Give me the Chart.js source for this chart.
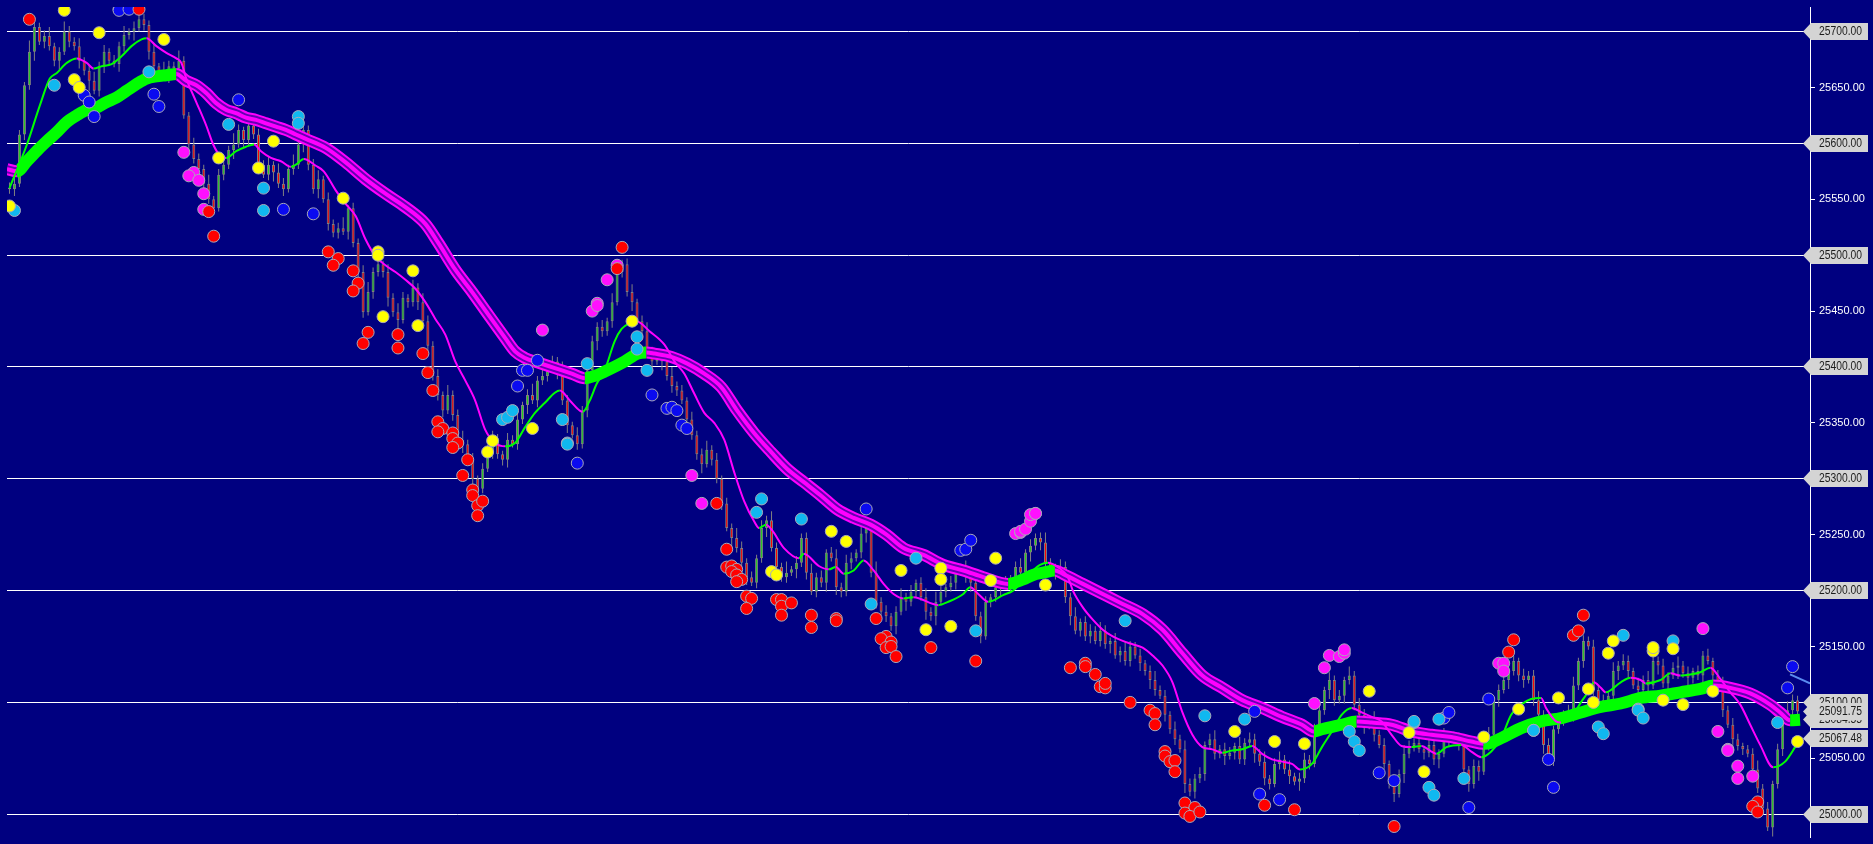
<!DOCTYPE html>
<html><head><meta charset="utf-8">
<script src="https://cdn.jsdelivr.net/npm/chart.js@4.4.1/dist/chart.umd.min.js"></script>
<style>html,body{margin:0;padding:0;background:#000080;overflow:hidden}canvas{display:block}</style>
</head><body>
<canvas id="c" width="1873" height="844"></canvas>
<script>
// ---------- DATA ----------
const firstOpen = 25560;
const closes = [
25559,25564,25608,25652,25682,25704,25691,25696,25687,25674,
25682,25700,25691,25687,25674,25665,25656,25647,25669,25682,
25674,25671,25687,25697,25700,25703,25711,25706,25682,25669,
25665,25662,25669,25667,25674,25625,25599,25586,25577,25564,
25550,25542,25572,25581,25594,25599,25612,25603,25616,25608,
25581,25572,25581,25574,25564,25559,25577,25581,25599,25612,
25581,25559,25568,25550,25528,25520,25524,25521,25542,25511,
25485,25449,25467,25485,25492,25485,25462,25449,25442,25462,
25458,25471,25458,25441,25419,25392,25375,25361,25375,25357,
25335,25331,25317,25300,25291,25309,25326,25335,25322,25317,
25335,25331,25353,25366,25375,25370,25388,25392,25401,25405,
25397,25370,25348,25339,25331,25361,25397,25423,25436,25432,
25441,25458,25485,25492,25467,25458,25441,25432,25414,25405,
25410,25405,25392,25383,25379,25370,25353,25339,25322,25313,
25326,25317,25300,25278,25256,25247,25238,25225,25212,25207,
25229,25256,25263,25238,25221,25212,25216,25219,25225,25247,
25216,25199,25212,25207,25234,25229,25203,25199,25225,25229,
25234,25251,25256,25216,25190,25181,25177,25168,25181,25194,
25190,25199,25207,25194,25181,25177,25190,25199,25203,25207,
25216,25219,25212,25207,25177,25159,25190,25194,25203,25207,
25205,25210,25221,25216,25234,25240,25247,25243,25225,25221,
25216,25221,25194,25177,25164,25172,25159,25164,25155,25164,
25152,25155,25142,25146,25137,25150,25142,25135,25128,25120,
25111,25106,25089,25076,25067,25058,25027,25020,25032,25036,
25062,25067,25054,25058,25052,25055,25061,25049,25064,25067,
25054,25047,25032,25027,25045,25049,25040,25034,25029,25032,
25049,25045,25076,25093,25111,25120,25102,25106,25120,25124,
25098,25089,25080,25084,25071,25062,25045,25027,25018,25036,
25054,25061,25064,25058,25055,25062,25049,25054,25071,25067,
25069,25062,25040,25027,25043,25038,25062,25071,25102,25111,
25120,25128,25137,25124,25120,25124,25102,25089,25062,25049,
25076,25084,25089,25091,25115,25137,25155,25150,25111,25102,
25098,25106,25128,25133,25137,25128,25115,25111,25120,25115,
25137,25133,25117,25124,25131,25133,25126,25122,25128,25124,
25142,25137,25124,25115,25093,25080,25067,25061,25058,25054,
25040,25023,25005,24988,25027,25058,25084,25093,25102,25091.75
];
const upperWick = [
5,8,4,3,10,6,4,5,8,3, 4,9,5,4,7,3,5,8,4,6,
3,5,4,8,3,6,11,5,4,7, 3,8,5,4,9,4,3,6,5,4,
8,3,5,7,4,10,5,3,8,4, 5,4,7,3,8,5,4,9,3,6,
4,5,8,3,6,4,5,10,3,5, 4,6,9,4,5,3,7,4,8,5,
3,7,4,8,5,4,6,3,9,4, 5,8,4,6,3,5,4,8,5,3,
6,4,8,3,5,10,4,6,3,5, 4,8,5,3,7,4,9,5,4,6,
3,8,11,4,5,7,3,5,8,4, 6,3,5,8,4,5,3,7,4,5,
8,4,6,3,5,4,9,6,4,5, 3,7,4,8,5,4,10,3,6,4,
5,8,4,6,3,5,8,4,7,5, 3,8,4,5,10,4,6,3,5,8,
4,6,3,5,8,4,9,5,3,6, 4,5,8,3,6,4,5,3,8,4,
6,4,5,8,3,6,4,5,9,4, 3,7,5,4,8,3,5,6,4,8,
5,3,7,4,8,5,4,6,3,5, 8,4,5,3,7,4,8,5,4,6,
3,5,8,4,6,5,3,8,4,6, 5,4,9,3,5,7,4,8,3,5,
6,4,5,8,3,7,4,5,3,8, 4,6,5,3,8,4,6,3,5,4,
8,5,4,6,3,5,8,4,6,3, 5,4,8,3,6,5,4,7,3,5,
4,8,5,3,6,4,5,8,4,6, 3,5,4,7,8,3,5,4,6,4,
5,3,8,4,6,5,3,7,4,8, 5,4,6,3,5,8,4,6,3,5,
4,6,3,5,8,4,6,5,3,4, 5,8,4,6,3,5,4,8,5,4
];
const lowerWick = [
4,6,3,5,4,8,3,6,4,5, 8,3,5,4,7,4,9,3,5,6,
4,3,7,5,4,8,3,5,7,4, 5,3,8,4,6,3,5,4,8,10,
4,6,3,5,4,8,3,7,5,4, 6,3,5,8,4,6,3,5,4,7,
5,4,8,3,6,4,5,3,7,4, 8,5,3,6,4,5,8,4,10,3,
5,4,7,3,8,4,5,6,3,5, 4,8,3,5,7,4,3,8,4,5,
7,3,5,4,8,3,6,4,5,3, 8,4,7,3,5,4,6,3,8,5,
4,6,3,5,4,8,3,6,4,5, 3,8,4,6,5,3,7,4,5,8,
3,5,4,6,3,8,4,5,7,3, 5,4,8,3,6,4,5,3,8,4,
6,3,5,4,8,3,7,5,4,6, 3,5,8,4,6,3,5,4,7,3,
8,4,5,3,7,4,8,3,5,4, 6,3,5,8,4,6,3,5,4,8,
3,6,4,5,3,8,4,7,5,3, 6,4,5,8,3,5,4,6,3,5,
4,8,3,6,4,5,3,7,4,8, 5,3,6,4,5,3,8,4,6,4,
6,3,5,4,8,3,6,4,5,3, 8,4,6,5,3,5,4,7,3,8,
4,5,3,6,4,8,5,3,7,4, 5,3,8,4,6,3,5,4,7,3,
8,4,5,3,6,4,5,8,3,6, 4,5,3,7,4,8,3,5,4,6,
3,8,4,5,7,3,5,4,8,3, 6,4,5,3,8,4,6,3,5,4,
6,3,5,8,4,6,3,5,4,7, 3,8,4,5,3,10,4,9,5,4,
8,3,5,4,6,3,8,4,5,3, 6,4,5,3,8,4,6,3,5,4
];
// fast moving average [bar, price]
const fastMA = [[0,25560],[3.5,25599],[6.1,25634],[8.1,25658],[9.5,25663],[11.5,25672],[13.5,25676],[15.5,25672],[16.9,25667],[18.5,25669],[20.5,25671],[22.5,25678],[24.5,25687],[26.5,25693],[27.5,25694],[29.5,25687],[31.5,25681],[33.5,25676],[34.5,25672],[35.5,25658],[37.5,25637],[39.5,25616],[40.9,25599],[42.1,25590],[43.5,25587],[45.5,25593],[47.5,25597],[49.1,25599],[50.5,25593],[52.5,25587],[54.5,25584],[56.5,25579],[57.5,25581],[59.1,25586],[61.5,25580],[63.1,25575],[65.5,25558],[67.5,25546],[69.5,25535],[71.5,25514],[73.5,25499],[75.5,25491],[77.5,25485],[79.5,25478],[81.5,25470],[83.5,25458],[85.5,25443],[87.5,25429],[89.5,25405],[91.5,25388],[93.5,25370],[95.5,25344],[97.5,25332],[99.5,25329],[101.5,25332],[103.5,25346],[105.5,25359],[107.5,25368],[109.5,25377],[110.5,25379],[112.5,25370],[114.5,25361],[115.1,25360],[116.5,25370],[117.9,25385],[119.5,25397],[121.5,25423],[122.9,25434],[124.5,25439],[125.9,25441],[128.5,25432],[131.5,25420],[133.5,25405],[135.5,25394],[137.5,25376],[139.5,25359],[141.5,25350],[143.5,25335],[145.5,25306],[147.5,25280],[149.5,25262],[150.5,25256],[151.9,25259],[153.1,25254],[155.5,25238],[158.5,25229],[159.5,25233],[162.5,25222],[164.5,25219],[165.9,25221],[167.5,25215],[169.5,25218],[171.5,25227],[173.5,25218],[175.5,25206],[177.5,25197],[179.5,25193],[181.5,25194],[186.5,25187],[188.5,25190],[191.5,25197],[192.9,25203],[194.5,25197],[196.5,25190],[199.5,25196],[201.5,25200],[203.5,25209],[205.5,25218],[206.9,25223],[208.5,25225],[210.5,25221],[212.5,25212],[213.5,25200],[215.5,25185],[217.5,25174],[219.5,25165],[221.5,25159],[223.5,25155],[225.5,25152],[227.5,25149],[229.5,25142],[231.5,25133],[233.5,25118],[235.5,25091],[237.5,25071],[239.5,25060],[241.5,25058],[243.5,25055],[245.5,25057],[247.5,25058],[249.5,25061],[251.5,25054],[253.5,25049],[255.5,25047],[257.5,25045],[259.1,25040],[261.5,25045],[263.5,25060],[265.5,25074],[267.5,25089],[269.5,25095],[271.5,25091],[273.5,25087],[275.5,25083],[277.5,25071],[279.5,25061],[281.5,25060],[283.5,25061],[285.5,25056],[286.5,25054],[288.5,25060],[291.5,25062],[293.5,25056],[295.5,25051],[297.5,25056],[299.5,25068],[301.5,25089],[303.5,25098],[305.5,25103],[307.5,25104],[308.5,25095],[310.5,25083],[311.5,25082],[313.5,25086],[315.5,25100],[317.5,25113],[318.1,25118],[319.5,25113],[320.5,25109],[323.5,25118],[325.5,25122],[327.5,25120],[328.5,25117],[331.5,25120],[333.5,25126],[335.5,25124],[337.5,25125],[339.5,25127],[341.5,25131],[343.5,25121],[345.5,25109],[347.5,25098],[349.5,25080],[351.5,25062],[354.1,25042],[356.5,25047],[358.5,25060],[359.5,25067.48]];
// slow ribbon [bar, price]
const slowRibbon = [[-0.5,25577],[1.5,25575],[3.5,25584],[6.1,25596],[7.5,25602],[9.5,25610],[11.5,25619],[13.5,25625],[15.5,25630],[17.5,25632],[19.5,25637],[21.5,25641],[23.5,25647],[25.5,25653],[27.5,25658],[29.5,25660],[31.5,25661],[33.5,25662],[35.5,25656],[37.5,25652],[39.5,25645],[41.5,25636],[43.5,25630],[45.5,25627],[47.5,25623],[49.5,25621],[51.5,25618],[53.5,25615],[55.5,25612],[57.5,25608],[59.5,25604],[63.5,25596],[67.5,25583],[71.5,25568],[75.5,25555],[79.5,25543],[83.5,25528],[86.1,25511],[89.5,25487],[92.9,25467],[96.1,25447],[99.5,25426],[101.5,25414],[103.5,25408],[106.1,25404],[109.5,25399],[112.9,25394],[115.5,25390],[117.5,25392],[119.5,25396],[123.5,25405],[126.1,25412],[127.9,25413],[129.5,25412],[132.9,25409],[136.1,25403],[139.5,25394],[142.9,25382],[146.1,25361],[149.5,25341],[152.9,25324],[156.1,25309],[159.5,25297],[162.9,25285],[166.1,25273],[169.5,25265],[172.9,25259],[176.1,25250],[179.5,25238],[183.5,25232],[187.5,25223],[191.5,25218],[195.5,25212],[200.5,25206],[203.5,25210],[205.5,25214],[207.5,25216],[209.9,25218],[211.5,25215],[215.5,25206],[219.5,25197],[223.5,25188],[227.5,25179],[231.5,25165],[235.5,25144],[239.5,25124],[243.5,25113],[247.5,25102],[251.5,25095],[255.5,25087],[259.5,25080],[261.9,25074],[263.5,25076],[267.5,25080],[270.5,25083],[273.5,25082],[277.5,25080],[281.5,25074],[285.5,25071],[289.5,25069],[293.5,25065],[295.9,25063],[297.5,25064],[299.5,25068],[303.5,25077],[307.5,25083],[311.5,25086],[315.5,25091],[319.5,25096],[323.5,25099],[327.5,25104],[331.5,25106],[335.5,25109],[339.5,25112],[342.1,25115],[345.5,25113],[349.5,25108],[353.5,25098],[355.5,25091],[357.5,25084],[359.5,25084.55]];
// signal dots [bar, price]
const redDots = [[4,25711],[26,25720],[40,25539],[41,25517],[64,25503],[66,25497],[65,25491],[69,25486],[70,25475],[69,25468],[72,25431],[71,25421],[78,25429],[78,25417],[83,25412],[84,25395],[85,25379],[86,25351],[87,25345],[86,25342],[89,25341],[89,25336],[90,25332],[89,25328],[92,25317],[91,25303],[93,25290],[93,25285],[94,25276],[95,25280],[94,25267],[123,25507],[122,25488],[142,25278],[144,25237],[144,25221],[145,25222],[146,25219],[145,25217],[146,25214],[147,25210],[146,25208],[148,25195],[149,25193],[148,25184],[154,25192],[155,25192],[155,25186],[157,25189],[155,25178],[161,25178],[161,25167],[166,25175],[166,25173],[174,25175],[176,25159],[175,25157],[177,25154],[176,25149],[177,25150],[178,25141],[185,25149],[194,25137],[213,25131],[216,25135],[216,25132],[218,25125],[219,25114],[220,25113],[220,25117],[225,25100],[229,25093],[230,25090],[230,25080],[232,25056],[232,25052],[233,25047],[234,25048],[234,25038],[236,25010],[238,25006],[236,25001],[237,24998],[239,25002],[252,25008],[258,25004],[278,24989],[301,25145],[302,25156],[314,25160],[315,25164],[316,25178],[351,25011],[350,25007],[351,25002]];
const yellowDots = [[11,25719],[18,25699],[31,25693],[13,25657],[14,25650],[0,25544],[53,25602],[42,25587],[50,25578],[67,25551],[74,25503],[74,25500],[81,25486],[75,25445],[82,25437],[97,25334],[96,25324],[105,25345],[125,25441],[153,25217],[154,25214],[165,25253],[168,25244],[179,25218],[187,25220],[187,25210],[184,25165],[189,25168],[198,25229],[197,25209],[208,25205],[246,25074],[254,25065],[260,25063],[273,25110],[281,25073],[284,25038],[296,25069],[303,25094],[311,25104],[317,25112],[318,25100],[321,25144],[322,25155],[330,25146],[330,25149],[334,25148],[332,25102],[336,25098],[342,25110],[359,25065]];
const magentaDots = [[35,25592],[37,25574],[36,25571],[38,25567],[39,25555],[39,25541],[107,25433],[117,25450],[118,25457],[118,25455],[122,25491],[120,25478],[137,25303],[139,25278],[202,25251],[203,25252],[203,25253],[204,25255],[205,25262],[205,25268],[206,25269],[206,25269],[262,25099],[264,25131],[265,25142],[267,25141],[268,25144],[268,25147],[299,25135],[300,25135],[300,25128],[340,25166],[343,25074],[345,25058],[345,25057],[347,25043],[347,25032],[350,25034]];
const cyanDots = [[9,25652],[1,25540],[28,25664],[44,25617],[58,25624],[58,25618],[51,25560],[51,25540],[99,25353],[100,25355],[101,25361],[111,25353],[112,25332],[112,25331],[116,25403],[126,25427],[126,25416],[128,25397],[151,25282],[150,25270],[159,25264],[173,25188],[182,25229],[194,25164],[224,25173],[240,25088],[248,25085],[269,25074],[270,25065],[271,25057],[282,25082],[282,25083],[287,25085],[285,25024],[286,25017],[292,25032],[306,25075],[306,25075],[319,25078],[320,25072],[324,25160],[327,25094],[327,25093],[328,25086],[334,25155],[355,25082]];
const blueDots = [[22,25720],[22,25719],[24,25720],[15,25643],[16,25637],[17,25624],[29,25644],[30,25633],[46,25639],[55,25541],[61,25537],[102,25383],[103,25397],[104,25397],[106,25406],[114,25314],[129,25375],[132,25363],[133,25364],[134,25361],[135,25348],[136,25345],[172,25273],[191,25236],[192,25237],[193,25245],[250,25092],[251,25018],[255,25013],[275,25037],[278,25030],[288,25086],[289,25091],[293,25006],[297,25103],[309,25049],[310,25024],[358,25132],[357,25113]];
const trendLine = [[357.5,25125],[361.5,25117]];
const yTicks = [25000,25050,25100,25150,25200,25250,25300,25350,25400,25450,25500,25550,25600,25650,25700];
const yMin = 24979.6, yMax = 25722.0;
const xMin = -0.5, xMax = 361.5;

// ---------- STYLE ----------
const BG = '#000080';
const C_UP = '#22cc22', C_DN = '#ff0000', C_CANDLE = '#808080';
const C_GREEN = '#00ff00', C_MAG = '#ff00ff';
const CLEAR = 'rgba(0,0,0,0)';
const GAP = 'rgba(0,0,128,0.6)';
const FONT = "'Liberation Sans',Arial,sans-serif";

const opens = closes.map((c, i) => i === 0 ? firstOpen : closes[i - 1]);
const bodies = closes.map((c, i) => ({ x: i, y: [opens[i], c] }));
const wicks = closes.map((c, i) => ({ x: i, y: [Math.min(opens[i], c) - lowerWick[i], Math.max(opens[i], c) + upperWick[i]] }));
const bodyColors = closes.map((c, i) => c >= opens[i] ? C_UP : C_DN);
const toXY = arr => arr.map(p => ({ x: p[0], y: p[1] }));
const rising = ctx => ctx.p1.parsed.y >= ctx.p0.parsed.y;
const slopeColor = ctx => rising(ctx) ? C_GREEN : C_MAG;

function dotSet(arr, color) {
  return { type: 'line', data: toXY(arr), showLine: false, pointRadius: 6, pointHoverRadius: 6,
    pointBackgroundColor: color, pointBorderColor: '#a9a9b8', pointBorderWidth: 1, order: 0 };
}
function ribbonLayer(width, colorFn, order) {
  return { type: 'line', data: toXY(slowRibbon), borderWidth: width, pointRadius: 0,
    cubicInterpolationMode: 'monotone', borderColor: C_GREEN, borderJoinStyle: 'round',
    segment: { borderColor: colorFn }, order: order };
}

const bgPlugin = {
  id: 'bg',
  beforeDraw(chart) { const c = chart.ctx; c.save(); c.fillStyle = BG; c.fillRect(0, 0, chart.width, chart.height); c.restore(); }
};
const boxPlugin = {
  id: 'boxes',
  afterDraw(chart) {
    const ys = chart.scales.y, c = chart.ctx, ca = chart.chartArea;
    const tip = ca.right - 7, base = ca.right + 1, right = ys.right - 5, h = 8.5;
    const draw = v => {
      const y = Math.round(ys.getPixelForValue(v) - 0.5) + 0.5;
      c.beginPath();
      c.moveTo(tip, y); c.lineTo(base, y - h); c.lineTo(right, y - h); c.lineTo(right, y + h); c.lineTo(base, y + h); c.closePath();
      c.fillStyle = '#d4d4d4'; c.fill();
      c.fillStyle = '#1c1c1c'; c.font = '12px ' + FONT; c.textBaseline = 'middle'; c.textAlign = 'left';
      c.fillText(v.toFixed(2), ys.left + 9, y + 0.5, 43);
    };
    c.save();
    yTicks.filter(v => v % 100 === 0).forEach(draw);
    draw(slowRibbon[slowRibbon.length - 1][1]);
    draw(fastMA[fastMA.length - 1][1]);
    draw(closes[closes.length - 1]);
    c.restore();
  }
};

new Chart(document.getElementById('c'), {
  type: 'bar',
  data: { datasets: [
    dotSet(redDots, '#ff0000'),
    dotSet(yellowDots, '#ffff00'),
    dotSet(magentaDots, '#ff10ff'),
    dotSet(cyanDots, '#10b8f0'),
    dotSet(blueDots, '#0a0af0'),
    { type: 'line', data: toXY(trendLine), borderColor: '#5a8cf0', borderWidth: 2, pointRadius: 0, order: 1 },
    { type: 'line', data: toXY(fastMA), borderWidth: 2, pointRadius: 0, cubicInterpolationMode: 'monotone',
      borderColor: C_GREEN, segment: { borderColor: slopeColor }, order: 2 },
    ribbonLayer(4, ctx => rising(ctx) ? CLEAR : C_MAG, 3.1),
    ribbonLayer(8, ctx => rising(ctx) ? CLEAR : GAP, 3.2),
    ribbonLayer(12, slopeColor, 3.3),
    { type: 'bar', data: bodies, backgroundColor: bodyColors, borderColor: C_CANDLE, borderWidth: 1,
      borderSkipped: false, maxBarThickness: 3, grouped: false, inflateAmount: 0, order: 4 },
    { type: 'bar', data: wicks, backgroundColor: C_CANDLE, borderWidth: 0, maxBarThickness: 1,
      grouped: false, inflateAmount: 0, order: 5 }
  ]},
  options: {
    responsive: false, animation: false, devicePixelRatio: 1, events: [],
    layout: { padding: 0 },
    plugins: { legend: { display: false }, tooltip: { enabled: false } },
    scales: {
      x: { type: 'linear', min: xMin, max: xMax, display: false, offset: false, grid: { display: false } },
      y: {
        type: 'linear', position: 'right', min: yMin, max: yMax,
        afterBuildTicks: s => { s.ticks = yTicks.map(v => ({ value: v })); },
        afterFit: s => { s.width = 63; s.paddingTop = 0; s.paddingBottom = 0; },
        grid: { color: ctx => (ctx.tick && ctx.tick.value % 100 === 0) ? '#ffffff' : CLEAR,
                tickColor: '#ffffff', tickLength: 5, lineWidth: 1 },
        border: { display: true, color: '#ffffff', width: 1 },
        ticks: { autoSkip: false, padding: 4, font: { family: FONT, size: 11 },
                 color: ctx => ctx.tick.value % 100 === 0 ? CLEAR : '#ffffff',
                 callback: v => Number(v).toFixed(2) }
      }
    }
  },
  plugins: [bgPlugin, boxPlugin]
});
</script>
</body></html>
